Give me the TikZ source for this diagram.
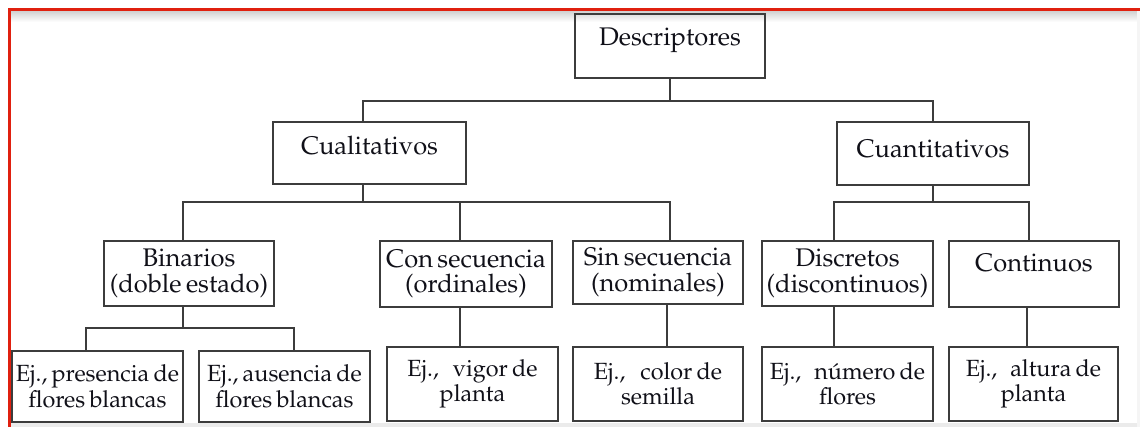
\documentclass[tikz,border=0pt]{standalone}
\usepackage[T1]{fontenc}
\usepackage{mathpazo}
\definecolor{frame}{HTML}{E0200F}
\definecolor{boxline}{HTML}{3C3C3C}
\definecolor{txt}{HTML}{101018}
\newcommand{\ejgap}[1]{\hspace{#1pt}}
\newcommand{\boxfont}{\fontsize{25.5}{25.5}\selectfont\frenchspacing\spaceskip=4.4pt\relax}
\newcommand{\ejfont}{\fontsize{23.4}{25.5}\selectfont\frenchspacing\spaceskip=4.2pt\relax}
\tikzset{
  box/.style={draw=boxline, line width=1.5pt, inner sep=0pt, align=center,
    text=txt, font=\boxfont},
  ejbox/.style={box, font=\ejfont},
  conn/.style={draw=boxline, line width=1.5pt},
}
\begin{document}
\begin{tikzpicture}[x=1pt,y=-1pt]
\useasboundingbox (0,0) rectangle (1140,427);
% page shadow and red frame
\shade[top color=black!18, bottom color=white] (10,11) rectangle (1140,22);
\fill[black!8] (10,423) rectangle (1140,427);
\fill[black!4] (1137,11) rectangle (1140,427);
\draw[frame, line width=3pt] (9,427) -- (9,10) -- (1140,10);
% boxes
\node[box, minimum width=190pt, minimum height=64pt, text depth=19pt] (desc) at (670,46) {Descriptores};
\node[box, minimum width=193pt, minimum height=62pt, text depth=16pt] (cual) at (369.5,153) {Cualitativos};
\node[box, minimum width=192pt, minimum height=63pt, text depth=10pt] (cuan) at (933,153.5) {Cuantitativos};
\node[box, minimum width=170pt, minimum height=65pt] (binar) at (189,273.5) {Binarios\\(doble estado)};
\node[box, minimum width=172pt, minimum height=66pt] (consec) at (466,274) {Con secuencia\\(ordinales)};
\node[box, minimum width=170pt, minimum height=63pt] (sinsec) at (658,272.5) {Sin secuencia\\(nominales)};
\node[box, minimum width=171pt, minimum height=65pt] (discr) at (847.5,273.5) {Discretos\\(discontinuos)};
\node[box, minimum width=170pt, minimum height=66pt, text depth=22pt] (cont) at (1034,274) {Continuos};
\node[ejbox, minimum width=171pt, minimum height=71pt] (ejpres) at (97.5,386.5) {Ej., presencia de\\flores blancas};
\node[ejbox, minimum width=171pt, minimum height=71pt] (ejaus) at (284.5,386.5) {Ej., ausencia de\\flores blancas};
\node[ejbox, minimum width=171pt, minimum height=74pt] (ejvig) at (472.5,384) {Ej.,\ejgap{14}vigor de\\planta};
\node[ejbox, minimum width=170pt, minimum height=74pt] (ejcol) at (658,384) {Ej.,\ejgap{15}color de\\semilla};
\node[ejbox, minimum width=171pt, minimum height=74pt] (ejnum) at (847.5,384) {Ej.,\ejgap{13}n\'umero de\\flores};
\node[ejbox, minimum width=169pt, minimum height=74pt] (ejalt) at (1033.5,384) {Ej.,\ejgap{13}altura de\\planta};
% junctions
\coordinate (j0) at (670,101);
\coordinate (j1) at (363,202);
\coordinate (j2) at (933,202);
\coordinate (j3) at (183,328);
% connectors
\draw[conn] (desc.south) -- (j0);
\draw[conn] ([xshift=-6.5pt]cual.north) |- (j0) -| (cuan.north);
\draw[conn] ([xshift=-6.5pt]cual.south) -- (j1);
\draw[conn] ([xshift=-6pt]binar.north) |- (j1) -| ([xshift=12pt]sinsec.north);
\draw[conn] ([xshift=-6pt]consec.north) |- (j1);
\draw[conn] (cuan.south) -- (j2);
\draw[conn] ([xshift=-13.5pt]discr.north) |- (j2) -| ([xshift=-5pt]cont.north);
\draw[conn] ([xshift=-6pt]binar.south) -- (j3);
\draw[conn] ([xshift=-11.5pt]ejpres.north) |- (j3) -| ([xshift=9.5pt]ejaus.north);
\draw[conn] ([xshift=-6pt]consec.south) -- ([xshift=-12.5pt]ejvig.north);
\draw[conn] ([xshift=9pt]sinsec.south) -- ([xshift=9pt]ejcol.north);
\draw[conn] ([xshift=-13.5pt]discr.south) -- ([xshift=-13.5pt]ejnum.north);
\draw[conn] ([xshift=-7pt]cont.south) -- ([xshift=-6.5pt]ejalt.north);
\end{tikzpicture}
\end{document}
